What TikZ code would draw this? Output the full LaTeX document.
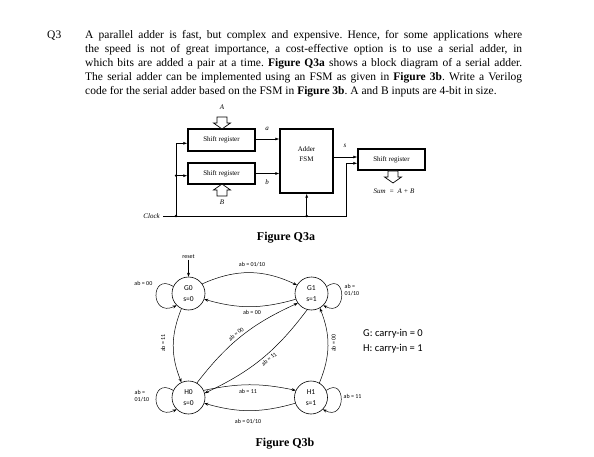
\documentclass[tikz,border=0pt]{standalone}
\usepackage{fontspec}
\setmainfont{Liberation Serif}
\newfontfamily\calib{Carlito}
\usetikzlibrary{arrows.meta}
\frenchspacing
\begin{document}
\begin{tikzpicture}[x=1pt,y=1pt,
  box/.style={draw, line width=1.4pt, inner sep=0, font=\fontsize{7}{10}\selectfont, align=center},
  wire/.style={line width=0.6pt},
  warr/.style={line width=0.6pt, -{Latex[length=4pt,width=3pt]}},
  dot/.style={circle, fill, inner sep=0, minimum size=2.6pt},
  il/.style={font=\itshape\fontsize{7}{9}\selectfont, inner sep=0},
  st/.style={circle, draw, line width=0.6pt, minimum size=33pt, inner sep=0, font=\calib\fontsize{7.5}{11}\selectfont, align=center},
  tr/.style={line width=0.5pt, -{Stealth[length=4pt,width=3pt]}},
  lab/.style={font=\calib\fontsize{6}{7.5}\selectfont, inner sep=0.5pt, align=left},
  hollowdown/.pic={\draw[line width=0.7pt, fill=white] (0,0) -- (-8.5,6) -- (-5,6) -- (-5,12) -- (5,12) -- (5,6) -- (8.5,6) -- cycle;}
]
\useasboundingbox (0,0) rectangle (594,-457);

% ---------- question text ----------
\node[anchor=base west, inner sep=0, font=\fontsize{11.5}{14}\selectfont] (q) at (47,-38.3) {Q3};
\node[anchor=north west, inner sep=0, text width=437pt, align=justify, font=\fontsize{11.5}{14}\selectfont] (para) at (85,-28.5)
{\strut A parallel adder is fast, but complex and expensive. Hence, for some applications where\linebreak
the speed is not of great importance, a cost-effective option is to use a serial adder, in\linebreak
which bits are added a pair at a time. \textbf{Figure Q3a} shows a block diagram of a serial adder.\linebreak
The serial adder can be implemented using an FSM as given in \textbf{Figure 3b}. Write a Verilog\linebreak
code for the serial adder based on the FSM in \textbf{Figure 3b}. A and B inputs are 4-bit in size.};

% ---------- Figure Q3a ----------
\node[box, minimum width=67pt, minimum height=22pt] (SRA) at (221.5,-140) {Shift register};
\node[box, minimum width=67pt, minimum height=21pt] (SRB) at (221.5,-173.5) {Shift register};
\node[box, minimum width=53pt, minimum height=64pt] (FSM) at (306.5,-161) {Adder\\FSM\\[4pt]};
\node[box, minimum width=67pt, minimum height=21pt] (SRS) at (391.5,-159.5) {Shift register};

\pic at (222,-129) {hollowdown};
\node[il] (lA) at (222,-107) {A};
\pic[rotate=180] at (222,-184) {hollowdown};
\node[il] (lB) at (222,-202.5) {B};
\pic at (393,-183) {hollowdown};
\node[il] (lsum) at (394,-191) {Sum\ \ =\ \ A + B};

\draw[warr] (SRA.east |- 0,-139) -- (FSM.west |- 0,-139);
\draw[warr] (SRB.east |- 0,-173.5) -- (FSM.west |- 0,-173.5);
\draw[warr] (FSM.east |- 0,-157) -- (SRS.west |- 0,-157);
\node[il] (la) at (267,-129) {a};
\node[il] (lb) at (267,-182.5) {b};
\node[il] (ls) at (345,-146) {s};

\node[il, anchor=east] (clk) at (160,-216) {Clock};
\coordinate (c0) at (163,-216);
\coordinate (c1) at (176,-216);
\coordinate (c2) at (176,-175.7);
\coordinate (c3) at (306.7,-216);
\coordinate (c4) at (346.7,-216);
\coordinate (c5) at (346.7,-163.3);
\coordinate (c6) at (176,-143.3);
\draw[wire] (c0) -- (c4) -- (c5);
\draw[warr] (c5) -- (c5 -| SRS.west);
\draw[wire] (c1) -- (c6);
\draw[warr] (c6) -- (c6 -| SRA.west);
\draw[warr] (c2) -- (c2 -| SRB.west);
\draw[warr] (c3) -- (c3 |- FSM.south);
\node[dot] (d1) at (c1) {};
\node[dot] (d2) at (c2) {};
\node[dot] (d3) at (c3) {};

\node[font=\bfseries\fontsize{12}{14}\selectfont, inner sep=0] (figA) at (286,-238) {Figure Q3a};

% ---------- Figure Q3b ----------
\node[st] (G0) at (188.5,-293.5) {G0\\s=0};
\node[st] (G1) at (311.5,-293.5) {G1\\s=1};
\node[st] (H0) at (188.5,-397.5) {H0\\s=0};
\node[st] (H1) at (311,-397.5) {H1\\s=1};

\node[lab] (rst) at (188.5,-257) {reset};
\draw[tr] (rst.south) -- (G0.north);

% G0 <-> G1
\draw[tr] (G0.35) to[bend left=25] (G1.150);
\node[lab] (l1) at (252,-265) {ab = 01/10};
\draw[tr] (G1.200) to[bend left=16] (G0.-20);
\node[lab] (l2) at (252,-312) {ab = 00};

% H0 <-> H1
\draw[tr] (H0.25) to[bend left=12] (H1.155);
\node[lab] (l3) at (248,-391) {ab = 11};
\draw[tr] (H1.200) to[bend left=16] (H0.-20);
\node[lab] (l4) at (248,-422) {ab = 01/10};

% self loops
\draw[tr] (G0.155) .. controls (150,-272) and (150,-318) .. (G0.225);
\node[lab, anchor=east] (l5) at (153,-283) {ab = 00};
\draw[tr] (G1.25) .. controls (347,-272) and (347,-318) .. (G1.-45);
\node[lab, anchor=west] (l6) at (344,-290) {ab =\\01/10};
\draw[tr] (H0.155) .. controls (150,-376) and (150,-422) .. (H0.225);
\node[lab, anchor=west] (l7) at (134,-396) {ab =\\01/10};
\draw[tr] (H1.25) .. controls (346.5,-376) and (346.5,-422) .. (H1.-45);
\node[lab, anchor=west] (l8) at (343,-396) {ab = 11};

% verticals
\draw[tr] (G0.245) to[bend right=22] (H0.115);
\node[lab, rotate=90] (l9) at (163,-343) {ab = 11};
\draw[tr] (H1.60) to[bend right=22] (G1.300);
\node[lab, rotate=90] (l10) at (333.5,-343) {ab = 00};

% diagonals
\draw[tr] (H0.60) to[bend left=14] (G1.215);
\node[lab, rotate=38] (l11) at (236,-334) {ab = 00};
\draw[tr] (G1.255) to[bend left=14] (H0.15);
\node[lab, rotate=38] (l12) at (269,-359) {ab = 11};

% legend
\node[font=\calib\fontsize{10.5}{15}\selectfont, anchor=west, align=left, inner sep=0] (leg) at (363,-341.5) {G: carry-in = 0\\H: carry-in = 1};

\node[font=\bfseries\fontsize{12}{14}\selectfont, inner sep=0] (figB) at (285,-444) {Figure Q3b};
\end{tikzpicture}
\end{document}
